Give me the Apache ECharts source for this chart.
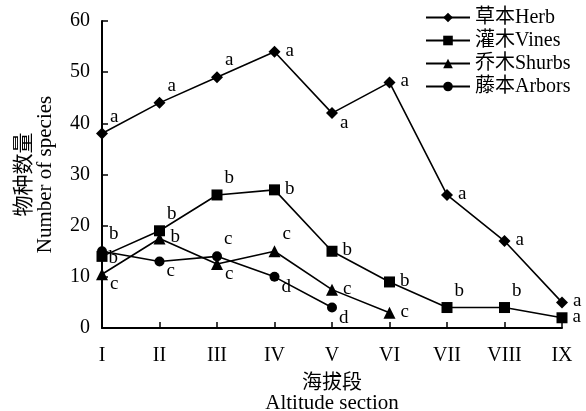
<!DOCTYPE html>
<html><head><meta charset="utf-8">
<script src="https://cdn.jsdelivr.net/npm/echarts@6/dist/echarts.min.js"></script>
<style>html,body{margin:0;padding:0;background:#fff}#c{width:586px;height:411px}</style>
</head><body><div id="c"></div>
<script>
// ---- data ----
const categories = ['I','II','III','IV','V','VI','VII','VIII','IX'];
const herb   = [38, 44, 49, 54, 42, 48, 26, 17, 5];
const vines  = [14, 19, 26, 27, 15, 9, 4, 4, 2];
const shrubs = [10.5, 17.5, 12.5, 15, 7.5, 3];
const arbors = [15, 13, 14, 10, 4];
const herbLetters   = ['a','a','a','a','a','a','a','a','a'];
const vinesLetters  = ['b','b','b','b','b','b','b','b','a'];
const shrubsLetters = ['c','b','c','c','c','c'];
const arborsLetters = ['b','c','c','d','d'];
const seriesNames = ['草本Herb','灌木Vines','乔木Shurbs','藤本Arbors'];
const yTicks = [0, 60, 10];

// ---- label placement (style) ----
const place = {
  tr: [-3, -17], r: [0, -1], rr: [-4, 2], br: [-3, 10]
};
const herbPlace   = ['tr','tr','tr','r','br','r','r','r','r'];
const vinesPlace  = ['rr','tr','tr','r','r','r','tr','tr','r'];
const shrubsPlace = ['br','r','br','tr','r','r'];
const arborsPlace = ['tr','br','tr','br','br'];

const serif = '"Liberation Serif", "Times New Roman", "Noto Sans CJK SC", serif';

function mk(vals, letters, places) {
  return vals.map((v, i) => ({
    value: v,
    label: { show: true, formatter: letters[i], position: 'right', distance: 5,
             offset: place[places[i]], color: '#000', fontSize: 19, fontFamily: serif }
  }));
}

const chart = echarts.init(document.getElementById('c'), null, {renderer: 'canvas'});
const lineStyle = { color: '#000', width: 1.6 };
const itemStyle = { color: '#000' };
chart.setOption({
  animation: false,
  backgroundColor: '#fff',
  grid: { left: 102, right: 24, top: 21, bottom: 83, containLabel: false, outerBoundsMode: 'none' },
  legend: {
    orient: 'vertical', left: 425, top: 7, padding: 0, itemWidth: 44, itemHeight: 12, itemGap: 2,
    textStyle: { color: '#000', fontSize: 20, lineHeight: 21, fontFamily: serif },
    data: seriesNames
  },
  xAxis: {
    type: 'category', data: categories, boundaryGap: false,
    axisLine: { lineStyle: { color: '#000', width: 2 } },
    axisTick: { inside: true, alignWithLabel: true, length: 6, lineStyle: { color: '#000', width: 1.5 } },
    axisLabel: { color: '#000', fontSize: 20, fontFamily: serif, margin: 18 },
    name: '{cn|海拔段}\n{en|Altitude section}', nameLocation: 'middle', nameGap: 40,
    nameTextStyle: { color: '#000', lineHeight: 22,
      rich: { cn: { fontFamily: '"Noto Sans CJK SC"', fontSize: 20, color: '#000', lineHeight: 22 },
              en: { fontFamily: serif, fontSize: 21, color: '#000', lineHeight: 22 } } }
  },
  yAxis: {
    type: 'value', min: yTicks[0], max: yTicks[1], interval: yTicks[2],
    axisLine: { show: true, lineStyle: { color: '#000', width: 2 } },
    axisTick: { show: true, inside: true, length: 6, lineStyle: { color: '#000', width: 1.5 } },
    splitLine: { show: false },
    axisLabel: { color: '#000', fontSize: 20, fontFamily: serif, margin: 12 },
    name: '{cn|物种数量}\n{en|Number of species}', nameLocation: 'middle', nameGap: 45, nameRotate: 90,
    nameTextStyle: { color: '#000', lineHeight: 23,
      rich: { cn: { fontFamily: '"Noto Sans CJK SC"', fontSize: 21, color: '#000', lineHeight: 23 },
              en: { fontFamily: serif, fontSize: 21, color: '#000', lineHeight: 23 } } }
  },
  series: [
    { name: seriesNames[0], type: 'line', data: mk(herb, herbLetters, herbPlace), symbol: 'diamond', symbolSize: 12, lineStyle, itemStyle },
    { name: seriesNames[1], type: 'line', data: mk(vines, vinesLetters, vinesPlace), symbol: 'rect', symbolSize: 11, lineStyle, itemStyle },
    { name: seriesNames[2], type: 'line', data: mk(shrubs, shrubsLetters, shrubsPlace), symbol: 'triangle', symbolSize: 12, lineStyle, itemStyle },
    { name: seriesNames[3], type: 'line', data: mk(arbors, arborsLetters, arborsPlace), symbol: 'circle', symbolSize: 10, lineStyle, itemStyle }
  ]
});
</script></body></html>
